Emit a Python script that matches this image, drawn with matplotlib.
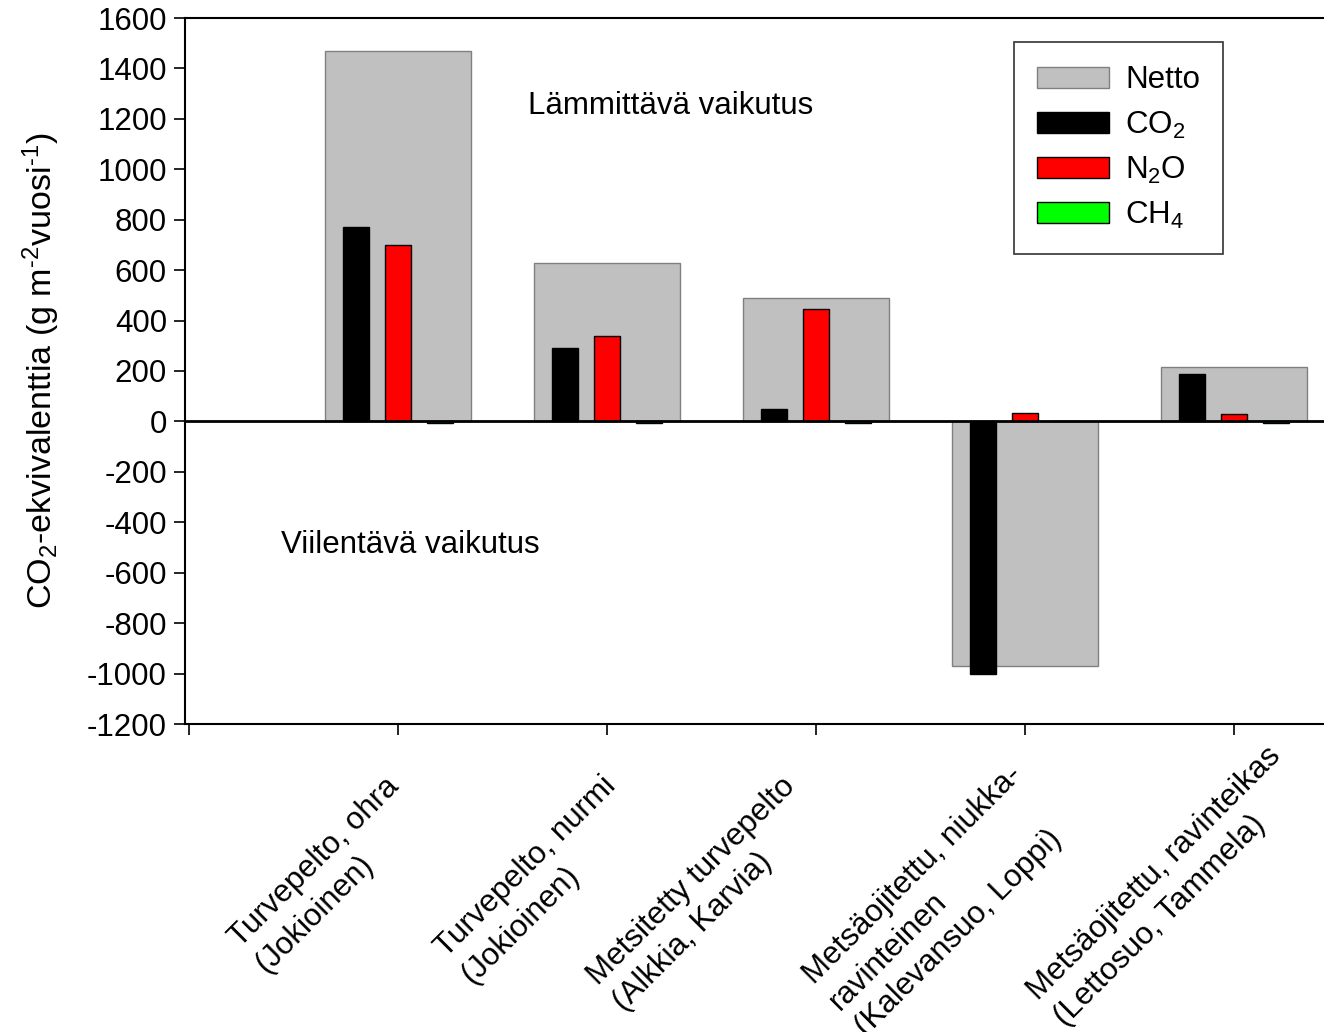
import matplotlib
matplotlib.use("Agg")
import matplotlib.pyplot as plt
import matplotlib.transforms as mtransforms
import numpy as np

plt.rcParams['font.family'] = ['Liberation Sans', 'DejaVu Sans']
plt.rcParams['mathtext.fontset'] = 'custom'
plt.rcParams['mathtext.rm'] = 'Liberation Sans'
plt.rcParams['mathtext.it'] = 'Liberation Sans:italic'
plt.rcParams['mathtext.bf'] = 'Liberation Sans:bold'

# data (g CO2-eq m-2 per year)
sites = ["Turvepelto, ohra\n(Jokioinen)",
         "Turvepelto, nurmi\n(Jokioinen)",
         "Metsitetty turvepelto\n(Alkkia, Karvia)",
         "Metsäojitettu, niukka-\nravinteinen\n(Kalevansuo, Loppi)",
         "Metsäojitettu, ravinteikas\n(Lettosuo, Tammela)"]
netto = [1470, 630, 490, -970, 215]
co2 = [770, 290, 50, -1000, 190]
n2o = [700, 340, 445, 35, 30]
ch4 = [-5, -5, -8, 2, -6]
yticks = list(range(-1200, 1601, 200))

# nudge of each category label (pixels), as in the original layout
label_dx = [-14, -6, -36, -18, 32]
label_dy = [0, 0, 0, 12, 30]

FS = 22.5

fig = plt.figure(figsize=(13.24, 10.32), dpi=100)
ax = fig.add_axes([185/1324, 1-724/1032, 1-185/1324, (724-18)/1032])

x = np.arange(1, len(sites)+1)
ax.bar(x, netto, width=0.7, color='#c0c0c0', edgecolor='#808080', linewidth=1, label='Netto', zorder=1)
ax.bar(x-0.2, co2, width=0.125, color='black', edgecolor='black', linewidth=1, label='CO$_2$', zorder=2)
ax.bar(x, n2o, width=0.125, color='#ff0000', edgecolor='black', linewidth=1, label='N$_2$O', zorder=2)
ax.bar(x+0.2, ch4, width=0.125, color='#00ff00', edgecolor='black', linewidth=1, label='CH$_4$', zorder=2)
ax.axhline(0, color='black', linewidth=2, zorder=3)

ax.set_xlim(-0.02, 5.43)
ax.set_ylim(-1200, 1600)
ax.set_yticks(yticks)
ax.set_yticklabels([str(v) for v in yticks], fontsize=FS)
ax.set_xticks(range(0, len(sites)+1))
ax.set_xticklabels([''] + sites, fontsize=FS, rotation=45, ha='right', va='top',
                   rotation_mode='anchor', multialignment='left', linespacing=1.3)
ax.tick_params(axis='both', direction='out', length=8, width=1.2, color='black')
ax.tick_params(axis='y', pad=5)
ax.tick_params(axis='x', pad=26)
for lab, dx, dy in zip(ax.get_xticklabels()[1:], label_dx, label_dy):
    lab.set_transform(lab.get_transform() + mtransforms.ScaledTranslation(dx/100, dy/100, fig.dpi_scale_trans))

ax.spines['right'].set_visible(False)
for sp in ['top', 'left', 'bottom']:
    ax.spines[sp].set_linewidth(1.5)

ax.set_ylabel(r'CO$_2$-ekvivalenttia (g m$^{\text{-}2}$vuosi$^{\text{-}1}$)', fontsize=24.5, labelpad=18)

ax.text(1.62, 1250, 'Lämmittävä vaikutus', fontsize=FS, ha='left', va='center')
ax.text(0.44, -490, 'Viilentävä vaikutus', fontsize=FS, ha='left', va='center')

leg = ax.legend(loc='upper left', bbox_to_anchor=(829/1139, 0.966), fontsize=FS,
                frameon=True, fancybox=False, edgecolor='black', borderaxespad=0,
                handlelength=2.3, handleheight=0.65, labelspacing=0.45,
                handletextpad=0.5, borderpad=0.75)
leg.get_frame().set_linewidth(1.2)

fig.savefig('out.png', dpi=100)
